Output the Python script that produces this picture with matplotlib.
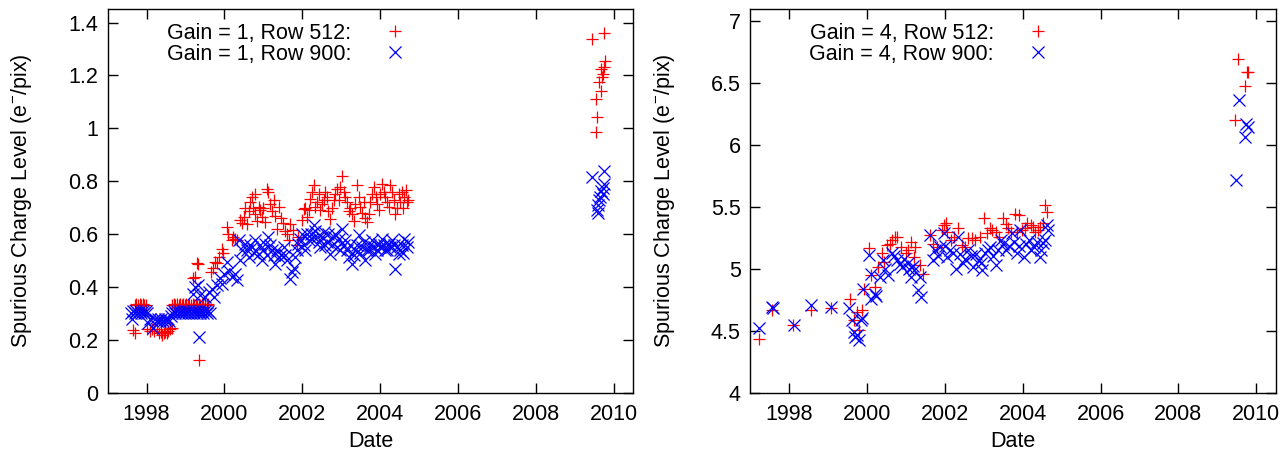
#!/usr/bin/env python3

import matplotlib
matplotlib.use('Agg')
import matplotlib.pyplot as plt
from matplotlib.ticker import MultipleLocator, FuncFormatter

plt.rcParams['font.family'] = ['Liberation Sans', 'DejaVu Sans']
plt.rcParams['mathtext.fontset'] = 'custom'
plt.rcParams['mathtext.rm'] = 'Liberation Sans'
plt.rcParams['mathtext.default'] = 'regular'

# Gain = 1, Row 512
g1_r512_date = [
	1997.65, 1997.69, 1997.70, 1997.74, 1997.78, 1997.82, 1997.86, 1997.90, 1997.94, 1997.98,
	1998.02, 1998.08, 1998.14, 1998.20, 1998.26, 1998.32, 1998.36, 1998.40, 1998.44, 1998.48,
	1998.52, 1998.56, 1998.60, 1998.64,
	1998.66, 1998.70, 1998.74, 1998.78, 1998.82, 1998.86, 1998.90, 1998.94, 1998.98, 1999.02,
	1999.06, 1999.10, 1999.14, 1999.18, 1999.22, 1999.26, 1999.30, 1999.34, 1999.38, 1999.42,
	1999.46, 1999.50, 1999.54, 1999.58,
	1999.20, 1999.25, 1999.30, 1999.33, 1999.35,
	1999.66, 1999.70, 1999.76, 1999.80, 1999.85, 1999.93, 1999.96, 2000.06, 2000.10, 2000.19,
	2000.23, 2000.28, 2000.32, 2000.40, 2000.45,
	2000.49, 2000.58, 2000.62, 2000.70, 2000.79, 2000.79, 2000.88, 2000.96, 2001.05, 2001.09,
	2001.13, 2001.17, 2001.22, 2001.30, 2001.35, 2001.39, 2001.45, 2001.50, 2001.55, 2001.60,
	2001.65, 2001.69, 2001.77, 2001.86, 2001.90, 2001.99, 2002.03, 2002.12, 2002.20, 2002.29,
	2002.33, 2002.42, 2002.50, 2002.59, 2002.67, 2002.72, 2002.80, 2002.89, 2002.97, 2003.02,
	2003.10, 2003.19, 2003.27, 2003.36, 2003.40, 2003.49, 2003.57, 2003.66, 2003.70, 2003.79,
	2003.83, 2003.92, 2004.00, 2004.05, 2004.13, 2004.22, 2004.26, 2004.35, 2004.39, 2004.47,
	2004.55, 2004.58, 2004.62, 2004.65, 2004.68, 2004.70,
	2000.52, 2000.66, 2000.74, 2000.84, 2000.92, 2001.00, 2001.26, 2002.08, 2002.16, 2002.24,
	2002.38, 2002.46, 2002.55, 2002.63, 2002.76, 2002.84, 2002.93, 2003.06, 2003.14, 2003.23,
	2003.32, 2003.45, 2003.53, 2003.62, 2003.74, 2003.88, 2003.96, 2004.09, 2004.18, 2004.30,
	2004.43, 2004.51,
	2009.43, 2009.74, 2009.77, 2009.74, 2009.66, 2009.72, 2009.70, 2009.61, 2009.66, 2009.53,
	2009.57, 2009.55]
g1_r512_val = [
	0.236, 0.224, 0.330, 0.335, 0.330, 0.335, 0.330, 0.335, 0.330, 0.330,
	0.240, 0.235, 0.240, 0.235, 0.240, 0.225, 0.230, 0.220, 0.225, 0.230,
	0.225, 0.235, 0.240, 0.245,
	0.330, 0.335, 0.330, 0.335, 0.330, 0.335, 0.330, 0.335, 0.330, 0.335,
	0.330, 0.335, 0.330, 0.335, 0.330, 0.335, 0.330, 0.335, 0.330, 0.335,
	0.330, 0.335, 0.330, 0.335,
	0.434, 0.438, 0.490, 0.488, 0.123,
	0.457, 0.470, 0.494, 0.490, 0.513, 0.545, 0.530, 0.626, 0.600, 0.576,
	0.590, 0.580, 0.576, 0.652, 0.640,
	0.664, 0.639, 0.689, 0.740, 0.752, 0.677, 0.702, 0.664, 0.645, 0.771,
	0.758, 0.714, 0.689, 0.670, 0.620, 0.702, 0.660, 0.640, 0.610, 0.600,
	0.576, 0.639, 0.614, 0.557, 0.589, 0.652, 0.696, 0.664, 0.733, 0.787,
	0.702, 0.752, 0.714, 0.758, 0.689, 0.658, 0.727, 0.771, 0.777, 0.818,
	0.740, 0.689, 0.677, 0.714, 0.784, 0.702, 0.721, 0.645, 0.677, 0.752,
	0.777, 0.714, 0.752, 0.790, 0.740, 0.702, 0.784, 0.727, 0.677, 0.752,
	0.760, 0.700, 0.740, 0.765, 0.720, 0.727,
	0.700, 0.720, 0.700, 0.650, 0.690, 0.700, 0.730, 0.700, 0.690, 0.760,
	0.720, 0.690, 0.730, 0.740, 0.700, 0.750, 0.730, 0.760, 0.720, 0.700,
	0.650, 0.740, 0.680, 0.660, 0.720, 0.740, 0.690, 0.760, 0.720, 0.760,
	0.700, 0.720,
	1.337, 1.359, 1.255, 1.230, 1.224, 1.205, 1.195, 1.174, 1.142, 1.111,
	1.042, 0.985]

# Gain = 1, Row 900
g1_r900_date = [
	1997.60, 1997.62, 1997.66, 1997.70, 1997.74, 1997.78, 1997.82, 1997.86, 1997.90, 1997.94,
	1997.98, 1998.02,
	1998.04, 1998.10, 1998.17, 1998.22, 1998.26, 1998.30, 1998.34, 1998.38, 1998.42, 1998.46,
	1998.50, 1998.54, 1998.58, 1998.62,
	1998.66, 1998.70, 1998.74, 1998.78, 1998.82, 1998.86, 1998.90, 1998.94, 1998.98, 1999.02,
	1999.06, 1999.10, 1999.14, 1999.18, 1999.22, 1999.26, 1999.30, 1999.34, 1999.38, 1999.42,
	1999.46, 1999.50, 1999.54, 1999.58, 1999.62,
	1999.20, 1999.25, 1999.33, 1999.35, 1999.38,
	1999.50, 1999.59, 1999.68, 1999.72, 1999.80, 1999.89, 1999.93, 1999.98, 2000.06, 2000.12,
	2000.19, 2000.28, 2000.32,
	2000.36, 2000.45, 2000.53, 2000.62, 2000.70, 2000.79, 2000.88, 2000.96, 2001.05, 2001.13,
	2001.22, 2001.30, 2001.39, 2001.52, 2001.60, 2001.69, 2001.73, 2001.82, 2001.90, 2001.99,
	2002.07, 2002.16, 2002.29, 2002.37, 2002.46, 2002.55, 2002.63, 2002.72, 2002.80, 2002.89,
	2003.02, 2003.10, 2003.19, 2003.27, 2003.36, 2003.45, 2003.53, 2003.62, 2003.70, 2003.79,
	2003.87, 2003.96, 2004.05, 2004.13, 2004.22, 2004.30, 2004.39, 2004.47, 2004.55, 2004.62,
	2004.68, 2004.70,
	2000.40, 2000.58, 2000.66, 2000.75, 2000.92, 2001.00, 2001.09, 2001.18, 2001.26, 2001.35,
	2001.45, 2001.56, 2001.78, 2001.86, 2001.95, 2002.03, 2002.12, 2002.21, 2002.25, 2002.33,
	2002.42, 2002.50, 2002.59, 2002.67, 2002.76, 2002.84, 2002.93, 2002.97, 2003.06, 2003.14,
	2003.23, 2003.32, 2003.40, 2003.49, 2003.57, 2003.66, 2003.74, 2003.83, 2003.92, 2004.00,
	2004.09, 2004.18, 2004.26, 2004.35, 2004.43, 2004.51, 2004.58,
	2009.43, 2009.74, 2009.74, 2009.72, 2009.68, 2009.72, 2009.65, 2009.62, 2009.58, 2009.56,
	2009.58]
g1_r900_val = [
	0.300, 0.280, 0.310, 0.300, 0.310, 0.300, 0.310, 0.300, 0.310, 0.300,
	0.310, 0.300,
	0.263, 0.280, 0.244, 0.280, 0.270, 0.280, 0.270, 0.280, 0.270, 0.280,
	0.270, 0.280, 0.270, 0.290,
	0.300, 0.310, 0.300, 0.310, 0.300, 0.310, 0.300, 0.310, 0.300, 0.310,
	0.300, 0.310, 0.300, 0.310, 0.300, 0.310, 0.300, 0.310, 0.300, 0.310,
	0.300, 0.310, 0.300, 0.310, 0.300,
	0.375, 0.400, 0.406, 0.209, 0.369,
	0.362, 0.380, 0.394, 0.360, 0.407, 0.432, 0.410, 0.450, 0.494, 0.460,
	0.438, 0.450, 0.425,
	0.576, 0.538, 0.564, 0.513, 0.551, 0.576, 0.526, 0.500, 0.564, 0.589,
	0.538, 0.488, 0.513, 0.551, 0.500, 0.431, 0.457, 0.513, 0.564, 0.601,
	0.538, 0.576, 0.633, 0.589, 0.551, 0.608, 0.570, 0.526, 0.589, 0.551,
	0.620, 0.576, 0.513, 0.488, 0.538, 0.595, 0.551, 0.500, 0.538, 0.576,
	0.526, 0.564, 0.582, 0.538, 0.564, 0.576, 0.469, 0.526, 0.560, 0.580,
	0.550, 0.570,
	0.500, 0.540, 0.560, 0.530, 0.560, 0.540, 0.520, 0.560, 0.520, 0.540,
	0.520, 0.520, 0.470, 0.540, 0.580, 0.560, 0.600, 0.600, 0.580, 0.610,
	0.570, 0.590, 0.560, 0.600, 0.560, 0.600, 0.580, 0.540, 0.560, 0.540,
	0.560, 0.520, 0.560, 0.530, 0.570, 0.540, 0.560, 0.550, 0.540, 0.550,
	0.560, 0.540, 0.550, 0.560, 0.550, 0.540, 0.530,
	0.815, 0.840, 0.790, 0.776, 0.764, 0.750, 0.740, 0.730, 0.710, 0.690,
	0.680]

# Gain = 4, Row 512
g4_r512_date = [
	1997.22, 1997.55, 1998.09, 1998.56, 1999.07, 1999.56, 1999.65, 1999.74, 1999.79, 1999.88,
	1999.92, 2000.05, 2000.10, 2000.19, 2000.28, 2000.37, 2000.50, 2000.63, 2000.72, 2000.86,
	2000.99, 2001.13, 2001.21, 2001.35, 2001.44, 2001.62, 2001.79, 2001.93, 2002.02, 2002.15,
	2002.33, 2002.51, 2002.60, 2002.78, 2003.00, 2003.09, 2003.22, 2003.40, 2003.49, 2003.62,
	2003.80, 2003.89, 2003.98, 2004.12, 2004.25, 2004.38, 2004.52, 2004.58, 2004.63,
	2000.43, 2000.58, 2000.77, 2001.05, 2001.24, 2001.70, 2001.97, 2002.06, 2002.24, 2002.44,
	2002.70, 2002.90, 2003.17, 2003.30, 2003.56, 2003.70, 2003.86, 2004.05, 2004.20, 2004.32,
	2004.45,
	2009.46, 2009.53, 2009.70, 2009.76, 2009.79]
g4_r512_val = [
	4.430, 4.667, 4.550, 4.667, 4.680, 4.760, 4.586, 4.653, 4.505, 4.667,
	4.840, 5.164, 4.950, 4.855, 5.016, 5.124, 5.190, 5.230, 5.258, 5.177,
	5.124, 5.218, 5.097, 5.030, 4.960, 5.270, 5.177, 5.310, 5.366, 5.230,
	5.325, 5.177, 5.245, 5.230, 5.406, 5.285, 5.312, 5.258, 5.406, 5.325,
	5.446, 5.433, 5.312, 5.366, 5.339, 5.312, 5.366, 5.513, 5.460,
	5.056, 5.200, 5.258, 5.150, 5.177, 5.200, 5.352, 5.300, 5.260, 5.190,
	5.250, 5.260, 5.325, 5.298, 5.360, 5.300, 5.298, 5.330, 5.350, 5.300,
	5.340,
	6.200, 6.689, 6.476, 6.589, 6.589]

# Gain = 4, Row 900
g4_r900_date = [
	1997.22, 1997.55, 1997.58, 1998.12, 1998.56, 1999.07, 1999.54, 1999.60, 1999.65, 1999.70,
	1999.74, 1999.79, 1999.83, 1999.88, 1999.90, 2000.05, 2000.10, 2000.19, 2000.23, 2000.10,
	2000.32, 2000.41, 2000.54, 2000.63, 2000.77, 2000.90, 2001.04, 2001.13, 2001.21, 2001.30,
	2001.39, 2001.35, 2001.62, 2001.70, 2001.88, 2001.97, 2002.06, 2002.20, 2002.29, 2002.33,
	2002.46, 2002.60, 2002.73, 2002.87, 2002.96, 2003.04, 2003.17, 2003.31, 2003.44, 2003.58,
	2003.71, 2003.85, 2003.94, 2004.03, 2004.16, 2004.29, 2004.43, 2004.52, 2004.61, 2004.65,
	2000.46, 2000.70, 2000.84, 2000.95, 2001.08, 2001.17, 2001.75, 2001.83, 2002.01, 2002.12,
	2002.38, 2002.52, 2002.66, 2002.80, 2002.92, 2003.10, 2003.24, 2003.36, 2003.50, 2003.64,
	2003.78, 2003.90, 2004.08, 2004.22, 2004.36, 2004.47, 2004.56,
	2009.47, 2009.55, 2009.74, 2009.79, 2009.70]
g4_r900_val = [
	4.520, 4.694, 4.680, 4.550, 4.707, 4.688, 4.680, 4.586, 4.490, 4.450,
	4.465, 4.425, 4.586, 4.600, 4.840, 5.110, 4.760, 4.800, 4.780, 4.960,
	4.935, 5.070, 4.950, 5.124, 5.070, 5.016, 5.043, 4.935, 4.990, 4.830,
	4.774, 4.935, 5.270, 5.070, 5.177, 5.285, 5.097, 5.124, 5.000, 5.258,
	5.043, 5.150, 5.016, 5.070, 4.990, 5.124, 5.177, 5.030, 5.230, 5.150,
	5.285, 5.124, 5.312, 5.097, 5.230, 5.177, 5.097, 5.204, 5.352, 5.312,
	5.000, 5.100, 5.040, 5.080, 5.000, 5.020, 5.150, 5.100, 5.180, 5.150,
	5.120, 5.080, 5.100, 5.120, 5.050, 5.150, 5.100, 5.150, 5.200, 5.180,
	5.220, 5.180, 5.200, 5.150, 5.220, 5.150, 5.230,
	5.715, 6.366, 6.172, 6.145, 6.060]

years = [1998, 2000, 2002, 2004, 2006, 2008, 2010]
fs = 15.5


def draw_panel(ax, d512, v512, d900, v900, gain, ylim, ystep):
	ax.plot(d512, v512, '+', color='#ff0000', ms=8, mew=0.9, linestyle='none',
		label='Gain = %d, Row 512:' % gain)
	ax.plot(d900, v900, 'x', color='#0000ff', ms=8, mew=0.9, linestyle='none',
		label='Gain = %d, Row 900:' % gain)

	ax.set_xlim(1997, 2010.5)
	ax.set_ylim(*ylim)
	ax.set_xticks(years)
	ax.yaxis.set_major_locator(MultipleLocator(ystep))
	ax.yaxis.set_major_formatter(FuncFormatter(lambda v, p: '%g' % round(v, 3)))

	# gnuplot style border: inward ticks on all four sides
	ax.tick_params(direction='in', length=7, width=1, top=True, right=True,
		labelsize=fs, colors='black')
	ax.tick_params(axis='x', pad=8)
	ax.tick_params(axis='y', pad=7)
	for s in ax.spines.values():
		s.set_linewidth(1.0)

	ax.set_xlabel('Date', fontsize=fs)
	ax.set_ylabel(r'Spurious Charge Level (e$^{-}$/pix)', fontsize=fs)
	ax.xaxis.set_label_coords(0.5, -0.10)
	ax.yaxis.set_label_coords(-0.14, 0.5)

	ax.legend(loc='upper left', bbox_to_anchor=(0.112, 0.965), fontsize=fs,
		frameon=False, markerfirst=False, borderpad=0, borderaxespad=0,
		labelspacing=0.0, handlelength=1.5, handletextpad=1.3)


fig = plt.figure(figsize=(12.83, 4.51), dpi=100)
ax1 = fig.add_axes([0.0839, 0.1293, 0.4098, 0.8501])
ax2 = fig.add_axes([0.5849, 0.1293, 0.4094, 0.8501])

draw_panel(ax1, g1_r512_date, g1_r512_val, g1_r900_date, g1_r900_val, 1, (0, 1.45), 0.2)
draw_panel(ax2, g4_r512_date, g4_r512_val, g4_r900_date, g4_r900_val, 4, (4, 7.094), 0.5)

fig.savefig('out.png', dpi=100)
